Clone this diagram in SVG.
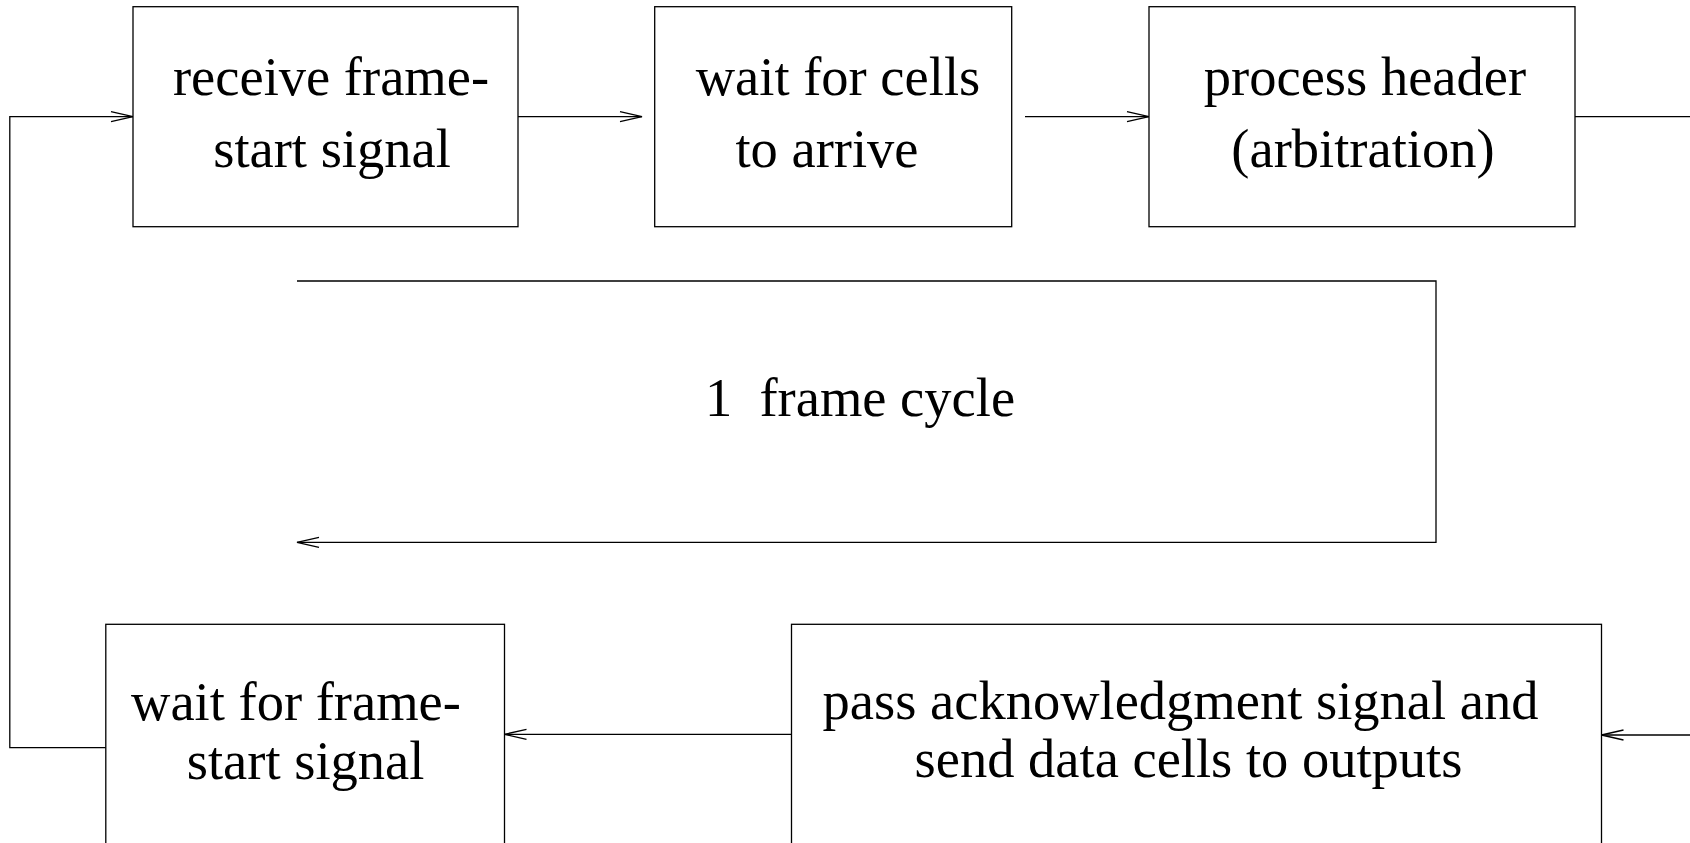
<svg xmlns="http://www.w3.org/2000/svg" width="1690" height="843" viewBox="0 0 1690 843">
<style>
.box{fill:#fff;stroke:#000;stroke-width:1.3}
.ln{fill:none;stroke:#000;stroke-width:1.3}
text{font-family:"Liberation Serif","Times New Roman",serif;font-size:54.5px;fill:#000;text-anchor:middle;white-space:pre}
</style>
<defs>
<marker id="arr" markerUnits="userSpaceOnUse" markerWidth="30" markerHeight="14" refX="22" refY="7" orient="auto" overflow="visible">
<path d="M0,2 L22,7 L0,12" fill="none" stroke="#000" stroke-width="1.3"/>
</marker>
</defs>
<rect width="1690" height="843" fill="#fff"/>
<g id="connectors">
<line class="ln" x1="518" y1="116.7" x2="642" y2="116.7" marker-end="url(#arr)"/>
<line class="ln" x1="1025" y1="116.7" x2="1149" y2="116.7" marker-end="url(#arr)"/>
<line class="ln" x1="1575" y1="116.7" x2="1690" y2="116.7"/>
<line class="ln" x1="1690" y1="735" x2="1601.5" y2="735" marker-end="url(#arr)"/>
<line class="ln" x1="791.5" y1="734.3" x2="504.5" y2="734.3" marker-end="url(#arr)"/>
<polyline class="ln" points="105.8,747.7 9.8,747.7 9.8,116.7 133,116.7" marker-end="url(#arr)"/>
<polyline class="ln" points="297,281 1436,281 1436,542.3 297,542.3" marker-end="url(#arr)"/>
</g>
<g id="n1">
<rect class="box" x="133" y="6.7" width="385" height="220"/>
<text x="331" y="95">receive frame-</text>
<text x="332" y="167">start signal</text>
</g>
<g id="n2">
<rect class="box" x="654.7" y="6.7" width="357" height="220"/>
<text x="838" y="95">wait for cells</text>
<text x="827" y="167">to arrive</text>
</g>
<g id="n3">
<rect class="box" x="1149" y="6.7" width="426" height="220"/>
<text x="1365" y="95">process header</text>
<text x="1363" y="167">(arbitration)</text>
</g>
<g id="cycle">
<text x="860" y="416">1  frame cycle</text>
</g>
<g id="n4">
<rect class="box" x="105.8" y="624.3" width="398.7" height="240"/>
<text x="296" y="720">wait for frame-</text>
<text x="305.6" y="779">start signal</text>
</g>
<g id="n5">
<rect class="box" x="791.5" y="624.3" width="810" height="240"/>
<text x="1180.5" y="719">pass acknowledgment signal and</text>
<text x="1188.5" y="777">send data cells to outputs</text>
</g>
</svg>
